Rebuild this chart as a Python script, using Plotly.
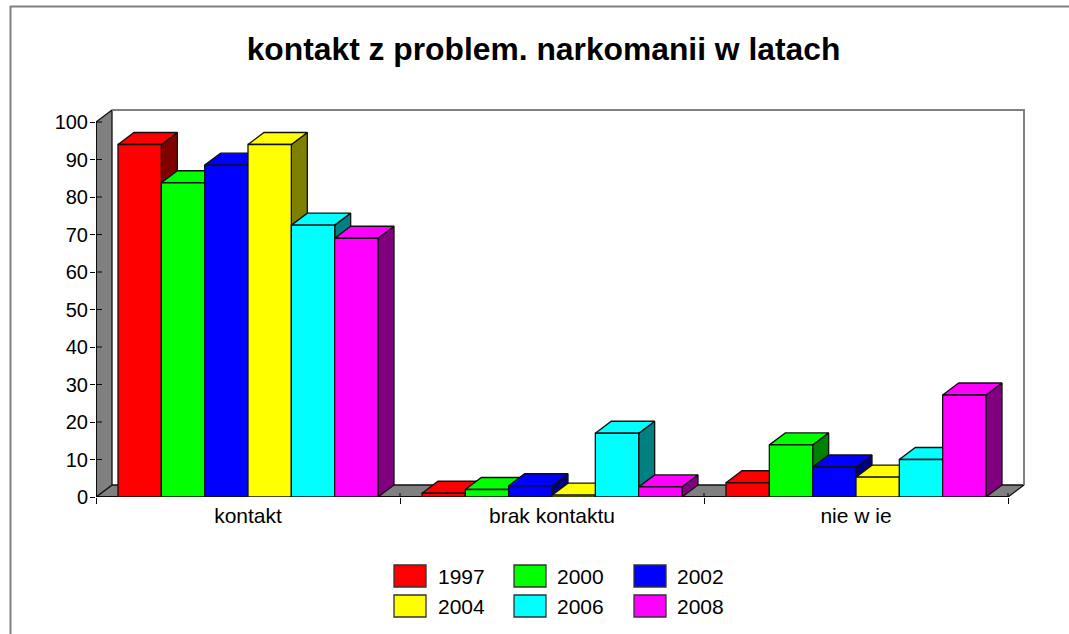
import plotly.graph_objects as go

title = "kontakt z problem. narkomanii w latach"
categories = ["kontakt", "brak kontaktu", "nie w ie"]
years = ["1997", "2000", "2002", "2004", "2006", "2008"]
v1997 = [94, 1, 3.8]
v2000 = [83.8, 2, 13.9]
v2002 = [88.5, 3, 8]
v2004 = [94, 0.5, 5.3]
v2006 = [72.5, 17, 10]
v2008 = [69, 2.7, 27.2]
series = [v1997, v2000, v2002, v2004, v2006, v2008]
front_colors = ["#ff0000", "#00ff00", "#0000ff", "#ffff00", "#00ffff", "#ff00ff"]
side_colors = ["#800000", "#008000", "#000080", "#808000", "#008080", "#800080"]
y_ticks = list(range(0, 101, 10))

# geometry of the pseudo-3D frame (plot area slightly larger than the walls, so edges are not clipped)
W, H = 1069, 634
LEFT, RIGHT, BOTTOM, TOP = 96, 1030, 497, 104
CAT_PX = 304
UNIT_PX = 3.75
DX = 16 / CAT_PX
DY = 12 / UNIT_PX
GAP = 22 / CAT_PX
BAR_W = (1 - 2 * GAP) / 6
N = len(categories)
EDGE = "#111111"
EDGE_W = 1.3
GREY = "#808080"
FONT = "Liberation Sans, Arial, sans-serif"


def px(x):
    return (x - LEFT) / (RIGHT - LEFT)


def py(y):
    return (BOTTOM - y) / (BOTTOM - TOP)


def poly(traces, xs, ys, fill, line=EDGE, width=EDGE_W):
    traces.append(go.Scatter(x=xs, y=ys, mode="lines", fill="toself", fillcolor=fill,
                             line=dict(color=line, width=width), showlegend=False,
                             cliponaxis=False, hoverinfo="skip"))


faces = []
# floor, left wall
poly(faces, [0, DX, N + DX, N, 0], [0, DY, DY, 0, 0], GREY)
poly(faces, [0, 0, DX, DX, 0], [0, 100, 100 + DY, DY, 0], GREY)
# back wall outline
faces.append(go.Scatter(x=[DX, N + DX, N + DX], y=[100 + DY, 100 + DY, DY], mode="lines",
                        line=dict(color=GREY, width=2), showlegend=False,
                        cliponaxis=False, hoverinfo="skip"))

# side and top faces, painted from the first series to the last
for i, vals in enumerate(series):
    sx, sy, tx, ty = [], [], [], []
    for k, v in enumerate(vals):
        x0 = k + GAP + i * BAR_W
        x1 = x0 + BAR_W
        sx += [x1, x1 + DX, x1 + DX, x1, x1, None]
        sy += [0, DY, v + DY, v, 0, None]
        tx += [x0, x0 + DX, x1 + DX, x1, x0, None]
        ty += [v, v + DY, v + DY, v, v, None]
    poly(faces, sx, sy, side_colors[i])
    poly(faces, tx, ty, front_colors[i])

# inner part of the ticks
stub_x, stub_y = [], []
for t in y_ticks:
    stub_x += [0, 6 / CAT_PX, None]
    stub_y += [t, t, None]
for k in range(N + 1):
    stub_x += [k, k, None]
    stub_y += [0, 4 / UNIT_PX, None]
faces.append(go.Scatter(x=stub_x, y=stub_y, mode="lines", line=dict(color="#000000", width=1),
                        showlegend=False, cliponaxis=False, hoverinfo="skip"))
# front axis lines
faces.append(go.Scatter(x=[0, 0, N], y=[100, 0, 0], mode="lines",
                        line=dict(color="#000000", width=1.5), showlegend=False,
                        cliponaxis=False, hoverinfo="skip"))

fig = go.Figure(faces)

# front faces on the overlay axes, so they cover every side and top face
for i, vals in enumerate(series):
    fig.add_trace(go.Bar(
        x=[k + GAP + (i + 0.5) * BAR_W for k in range(N)], y=vals, width=BAR_W,
        name=years[i], marker=dict(color=front_colors[i], line=dict(color=EDGE, width=EDGE_W)),
        xaxis="x2", yaxis="y2", showlegend=False, hoverinfo="skip"))

x_range = [0, (RIGHT - LEFT) / CAT_PX]
y_range = [0, (BOTTOM - TOP) / UNIT_PX]

shapes = [
    dict(type="line", xref="paper", yref="paper", x0=px(10), x1=px(W), y0=py(6.5), y1=py(6.5),
         line=dict(color=GREY, width=2)),
    dict(type="line", xref="paper", yref="paper", x0=px(10.5), x1=px(10.5), y0=py(6), y1=py(H),
         line=dict(color=GREY, width=2)),
]
annotations = []
swatch_x = [394, 514, 634]
text_x = [436, 555, 675]
swatch_y = [565, 595]
for i, yr in enumerate(years):
    c, r = i % 3, i // 3
    shapes.append(dict(type="rect", xref="paper", yref="paper",
                       x0=px(swatch_x[c]), x1=px(swatch_x[c] + 32),
                       y0=py(swatch_y[r]), y1=py(swatch_y[r] + 22),
                       fillcolor=front_colors[i], line=dict(color="#333333", width=1.3)))
    annotations.append(dict(xref="paper", yref="paper", x=px(text_x[c]), y=py(swatch_y[r] + 11),
                            text=yr, showarrow=False, xanchor="left", yanchor="middle",
                            font=dict(size=21, color="#000000", family=FONT)))

fig.update_layout(
    width=W, height=H,
    margin=dict(l=LEFT, r=W - RIGHT, t=TOP, b=H - BOTTOM, pad=0),
    paper_bgcolor="#ffffff", plot_bgcolor="#ffffff",
    showlegend=False, barmode="overlay", hovermode=False,
    font=dict(family=FONT, color="#000000"),
    title=dict(text="<b>%s</b>" % title, x=543.5 / W, xanchor="center", y=1 - 49 / H,
               yanchor="middle", font=dict(size=31.8, family=FONT, color="#000000")),
    xaxis=dict(range=x_range, tickvals=[k + 0.5 for k in range(N)], ticktext=categories,
               ticks="", showgrid=False, zeroline=False, showline=False, fixedrange=True,
               ticklabelstandoff=4,
               tickfont=dict(size=21, family=FONT, color="#000000")),
    yaxis=dict(range=y_range, tickvals=y_ticks, ticks="outside", ticklen=5, tickwidth=1,
               tickcolor="#000000", showgrid=False, zeroline=False, showline=False,
               fixedrange=True, ticklabelstandoff=-2,
               tickfont=dict(size=20, family=FONT, color="#000000")),
    xaxis2=dict(range=x_range, overlaying="x", anchor="y2", tickvals=list(range(N + 1)),
                ticks="outside", ticklen=6, tickwidth=1, tickcolor="#000000",
                showticklabels=False, showgrid=False, zeroline=False, showline=False,
                fixedrange=True),
    yaxis2=dict(range=y_range, overlaying="y", anchor="x2", visible=False, fixedrange=True),
    shapes=shapes, annotations=annotations,
)

fig.write_html("out.html", config=dict(displayModeBar=False),
               post_script="document.body.style.margin='0';document.body.style.overflow='hidden';")
